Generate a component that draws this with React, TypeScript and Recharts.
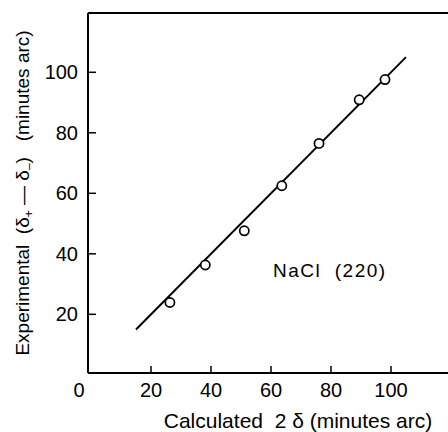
import { ComposedChart, Line, Scatter, XAxis, YAxis, ReferenceLine, Customized } from 'recharts';

// measured points (minutes arc)
const calculated = [26.3, 38.1, 51.1, 63.6, 76.0, 89.4, 98.0];
const experimental = [23.9, 36.3, 47.6, 62.5, 76.5, 90.9, 97.6];

// the drawn line (y = x)
const fitX = [15, 105];
const fitY = [15, 105];

const xTicks = [0, 20, 40, 60, 80, 100];
const yTicks = [20, 40, 60, 80, 100];

const points = calculated.map((x, i) => ({ x, y: experimental[i] }));
const fitData = fitX.map((x, i) => ({ x, y: fitY[i] }));

const FONT = '"Liberation Sans", Arial, Helvetica, sans-serif';

const XTick = (props: any) => {
  const { x, y, payload } = props;
  if (payload.value === 0) {
    return (
      <text x={x - 12} y={y + 24} textAnchor="middle" fontSize={20} fontFamily={FONT} fill="#000">
        0
      </text>
    );
  }
  return (
    <g>
      <line x1={x} y1={y} x2={x} y2={y - 7} stroke="#000" strokeWidth={1.5} />
      <text x={x} y={y + 24} textAnchor="middle" fontSize={20} fontFamily={FONT} fill="#000">
        {payload.value}
      </text>
    </g>
  );
};

const YTick = (props: any) => {
  const { x, y, payload } = props;
  return (
    <g>
      <line x1={x} y1={y} x2={x + 8} y2={y} stroke="#000" strokeWidth={1.5} />
      <text x={x - 10} y={y + 7} textAnchor="end" fontSize={20} fontFamily={FONT} fill="#000">
        {payload.value}
      </text>
    </g>
  );
};

const Circle = (props: any) => {
  const { cx, cy } = props;
  return <circle cx={cx} cy={cy} r={4.6} fill="#fff" stroke="#000" strokeWidth={1.7} />;
};

const pre = { whiteSpace: 'pre' as const };

const Texts = () => (
  <g fontFamily={FONT} fill="#000">
    <text x={298} y={428} textAnchor="middle" fontSize={21} style={pre}>
      {'Calculated  2 δ (minutes arc)'}
    </text>
    <text x={29} y={193} textAnchor="middle" fontSize={19} transform="rotate(-90 29 193)" style={pre}>
      <tspan>{'Experimental  (δ'}</tspan>
      <tspan fontSize={12} dy={4}>+</tspan>
      <tspan dy={-4}>{' — δ'}</tspan>
      <tspan fontSize={12} dy={4}>–</tspan>
      <tspan dy={-4}>{')   (minutes arc)'}</tspan>
    </text>
    <text x={273} y={277} fontSize={19} letterSpacing={1.5} style={pre}>
      {'NaCl  (220)'}
    </text>
  </g>
);

export default function App() {
  return (
    <div style={{ position: 'absolute', left: 0, top: 0, width: 448, height: 432, overflow: 'hidden', background: '#fff' }}>
      <ComposedChart width={500} height={432} margin={{ top: 13, right: 19, left: 28, bottom: 0 }}>
        <XAxis
          type="number"
          dataKey="x"
          domain={[-1, 130]}
          ticks={xTicks}
          tick={<XTick />}
          tickSize={0}
          tickMargin={0}
          tickLine={false}
          height={59}
          axisLine={{ stroke: '#000', strokeWidth: 2 }}
          allowDataOverflow
        />
        <YAxis
          type="number"
          dataKey="y"
          domain={[0.6, 119.6]}
          ticks={yTicks}
          tick={<YTick />}
          tickSize={0}
          tickMargin={0}
          tickLine={false}
          width={60}
          axisLine={{ stroke: '#000', strokeWidth: 2 }}
          allowDataOverflow
        />
        <ReferenceLine y={119.6} stroke="#000" strokeWidth={2} />
        <Line
          data={fitData}
          dataKey="y"
          type="linear"
          stroke="#000"
          strokeWidth={2}
          dot={false}
          activeDot={false}
          isAnimationActive={false}
        />
        <Scatter data={points} dataKey="y" shape={<Circle />} isAnimationActive={false} />
        <Customized component={Texts} />
      </ComposedChart>
    </div>
  );
}
